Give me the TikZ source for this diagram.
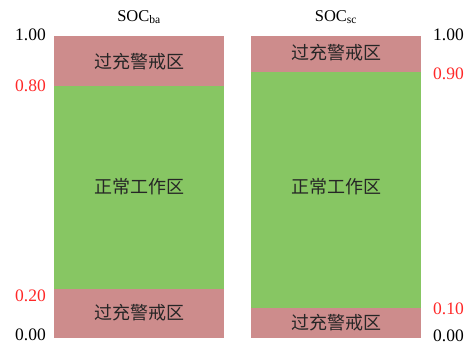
\documentclass[tikz,border=0pt]{standalone}
\usepackage{fontspec}
\setmainfont{Liberation Serif}
\newfontfamily\cjk{Noto Sans CJK SC}
\definecolor{warnpink}{RGB}{205,140,140}
\definecolor{okgreen}{RGB}{135,198,99}
\definecolor{numred}{RGB}{255,40,40}
\begin{document}
\begin{tikzpicture}[x=1pt,y=-1pt,
  zlabel/.style={font=\cjk\fontsize{18}{20}\selectfont,text=black!85},
  num/.style={font=\fontsize{17.5}{19}\selectfont,inner sep=0pt},
  ttl/.style={font=\fontsize{16.5}{18}\selectfont,inner sep=0pt}]
\useasboundingbox[fill=white] (0,0) rectangle (470,346);
% left bar
\fill[warnpink] (54,36) rectangle (224,86);
\fill[okgreen] (54,86) rectangle (224,289);
\fill[warnpink] (54,289) rectangle (224,338);
% right bar
\fill[warnpink] (251,36) rectangle (421,72);
\fill[okgreen] (251,72) rectangle (421,308);
\fill[warnpink] (251,308) rectangle (421,338);
% zone labels
\node[zlabel] (la) at (139,62) {过充警戒区};
\node[zlabel] (lb) at (139,187) {正常工作区};
\node[zlabel] (lc) at (139,313) {过充警戒区};
\node[zlabel] (ra) at (336,53) {过充警戒区};
\node[zlabel] (rb) at (336,187) {正常工作区};
\node[zlabel] (rc) at (336,323) {过充警戒区};
% titles
\node[ttl] (t1) at (139,17) {SOC\textsubscript{ba}};
\node[ttl] (t2) at (336,17) {SOC\textsubscript{sc}};
% left numbers
\node[num,anchor=east] (n1) at (46,35) {1.00};
\node[num,anchor=east,text=numred] (n2) at (46,86) {0.80};
\node[num,anchor=east,text=numred] (n3) at (46,296) {0.20};
\node[num,anchor=east] (n4) at (46,335) {0.00};
% right numbers
\node[num,anchor=west] (m1) at (433,35) {1.00};
\node[num,anchor=west,text=numred] (m2) at (433,74) {0.90};
\node[num,anchor=west,text=numred] (m3) at (433,309) {0.10};
\node[num,anchor=west] (m4) at (433,336) {0.00};
\end{tikzpicture}
\end{document}
